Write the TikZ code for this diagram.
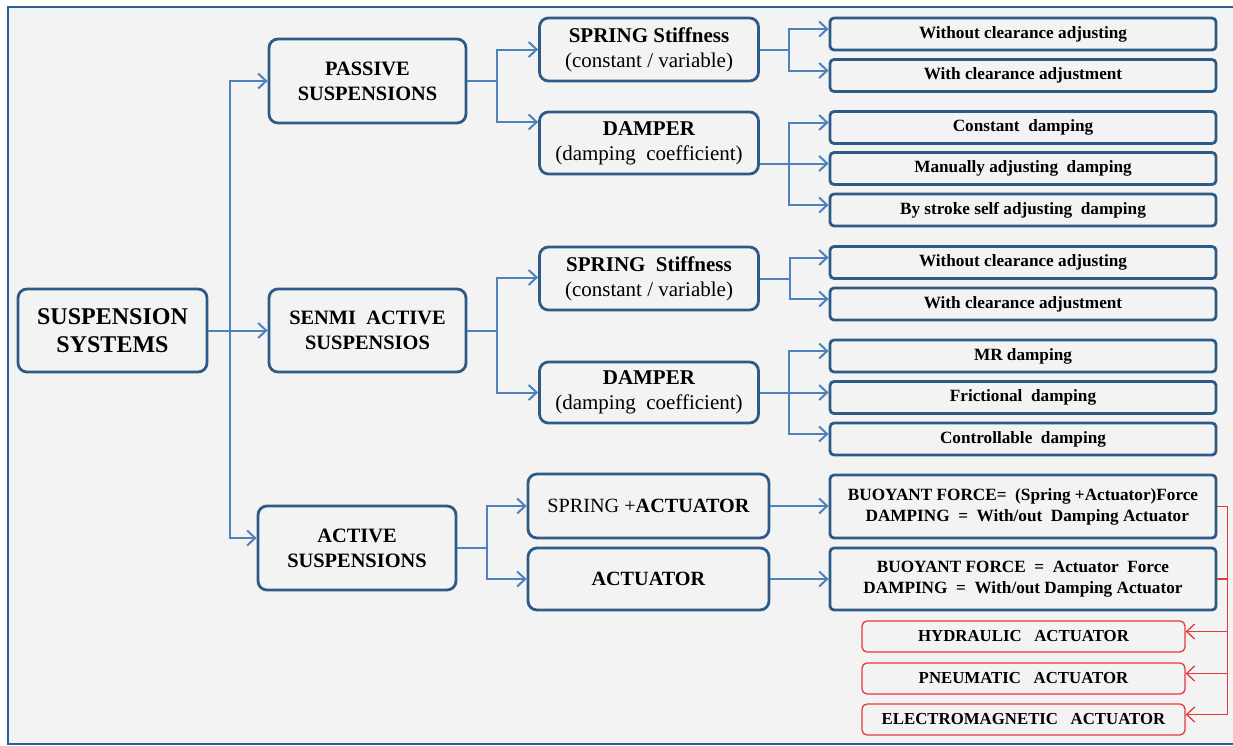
\documentclass[tikz,border=0pt]{standalone}
\usepackage{fontspec}
\setmainfont{Liberation Serif}
\usetikzlibrary{arrows.meta}
\definecolor{bg}{HTML}{F2F3F2}
\definecolor{frameblue}{HTML}{2D5F91}
\definecolor{boxblue}{HTML}{2E5A88}
\definecolor{lineblue}{HTML}{4F81BD}
\definecolor{redc}{HTML}{E8383D}
\begin{document}
\begin{tikzpicture}[x=1pt,y=-1pt,
  box/.style={draw=boxblue, line width=2.8pt, rounded corners=9pt, fill=bg, align=center, inner sep=0pt},
  leaf/.style={draw=boxblue, line width=2.8pt, rounded corners=4pt, fill=bg, align=center, inner sep=0pt,
    minimum width=386pt, minimum height=32pt, font=\fontsize{17.2}{21}\selectfont\bfseries},
  redbox/.style={draw=redc, line width=1.3pt, rounded corners=5pt, fill=bg, align=center, inner sep=0pt,
    minimum width=323pt, minimum height=31pt, font=\fontsize{16.8}{20}\selectfont\bfseries},
  conn/.style={draw=lineblue, line width=2pt, -{Straight Barb[length=8pt,width=15pt]}},
  redconn/.style={draw=redc, line width=1.3pt, -{Straight Barb[length=8pt,width=15pt]}},
  big/.style={font=\fontsize{24}{28}\selectfont\bfseries},
  mid/.style={font=\fontsize{20.4}{25}\selectfont\bfseries},
  sub/.style={font=\fontsize{21}{25}\selectfont},
  act/.style={font=\fontsize{20.2}{25}\selectfont}
]
\useasboundingbox (0,0) rectangle (1233,745);
\clip (0,0) rectangle (1233,745);
\draw[draw=frameblue, line width=2pt, fill=bg] (8,7) rectangle (1250,744);

% level 0
\node[box, big, minimum width=189pt, minimum height=83pt] (ss) at (112.5,330.5) {SUSPENSION\\SYSTEMS};
% level 1
\node[box, mid, minimum width=197pt, minimum height=84pt] (pas) at (367.5,81) {PASSIVE\\SUSPENSIONS};
\node[box, mid, minimum width=197pt, minimum height=83pt] (sen) at (367.5,330.5) {SENMI\ \ ACTIVE\\SUSPENSIOS};
\node[box, mid, minimum width=198pt, minimum height=84pt] (act) at (357,548) {ACTIVE\\SUSPENSIONS};
% level 2
\node[box, sub, minimum width=219pt, minimum height=63pt] (sp1) at (649,49.5) {\textbf{SPRING Stiffness}\\(constant / variable)};
\node[box, sub, minimum width=219pt, minimum height=62pt] (dm1) at (649,143) {\textbf{DAMPER}\\(damping\ \ coefficient)};
\node[box, sub, minimum width=219pt, minimum height=63pt] (sp2) at (649,278.5) {\textbf{SPRING\ \ Stiffness}\\(constant / variable)};
\node[box, sub, minimum width=219pt, minimum height=61pt] (dm2) at (649,392.5) {\textbf{DAMPER}\\(damping\ \ coefficient)};
\node[box, act, minimum width=241pt, minimum height=64pt] (spa) at (648.5,506) {SPRING +\textbf{ACTUATOR}};
\node[box, act, minimum width=241pt, minimum height=62pt] (acto) at (648.5,579) {\textbf{ACTUATOR}};
% level 3 leaves
\node[leaf] (l1) at (1023,34) {Without clearance adjusting};
\node[leaf] (l2) at (1023,75.5) {With clearance adjustment};
\node[leaf] (l3) at (1023,127.5) {Constant\ \ damping};
\node[leaf] (l4) at (1023,168.5) {Manually adjusting\ \ damping};
\node[leaf] (l5) at (1023,210) {By stroke self adjusting\ \ damping};
\node[leaf] (l6) at (1023,262.5) {Without clearance adjusting};
\node[leaf] (l7) at (1023,304) {With clearance adjustment};
\node[leaf] (l8) at (1023,356) {MR damping};
\node[leaf] (l9) at (1023,397.5) {Frictional\ \ damping};
\node[leaf] (l10) at (1023,439) {Controllable\ \ damping};
\node[leaf, minimum height=63pt] (b1) at (1023,506.5) {BUOYANT FORCE=\ \ (Spring +Actuator)Force\\\ \ DAMPING\ \ =\ \ With/out\ \ Damping Actuator};
\node[leaf, minimum height=62pt] (b2) at (1023,579) {BUOYANT FORCE\ \ =\ \ Actuator\ \ Force\\DAMPING\ \ =\ \ With/out Damping Actuator};
% red boxes
\node[redbox] (r1) at (1023.5,636.5) {HYDRAULIC\ \ \ ACTUATOR};
\node[redbox] (r2) at (1023.5,678.5) {PNEUMATIC\ \ \ ACTUATOR};
\node[redbox] (r3) at (1023.5,719.5) {ELECTROMAGNETIC\ \ \ ACTUATOR};

% entry coordinates
\foreach \n in {l1,l2,l3,l4,l5,l6,l7,l8,l9,l10} {\coordinate (\n in) at ([yshift=5pt]\n.west);}
\foreach \n in {r1,r2,r3} {\coordinate (\n in) at ([yshift=5pt]\n.east);}

% trunk
\draw[conn] (ss.east) -- ([xshift=22pt]ss.east) |- (pas.west);
\draw[conn] (ss.east) -- (ss.east -| sen.west);
\draw[conn] ([xshift=22pt]ss.east) |- ([yshift=10pt]act.west);
% level1 -> level2
\draw[conn] (pas.east) -- ++(30,0) |- (sp1.west);
\draw[conn] (pas.east) -- ++(30,0) |- ([yshift=21pt]dm1.west);
\draw[conn] (sen.east) -- ++(30,0) |- ([yshift=1pt]sp2.west);
\draw[conn] (sen.east) -- ++(30,0) |- (dm2.west);
\draw[conn] (act.east) -- ++(30,0) |- (spa.west);
\draw[conn] (act.east) -- ++(30,0) |- (acto.west);
% level2 -> leaves
\draw[conn] (sp1.east) -- ++(29,0) |- (l1in);
\draw[conn] (sp1.east) -- ++(29,0) |- (l2in);
\draw[conn] (l4in -| dm1.east) -- (l4in);
\draw[conn] (l4in -| dm1.east) -- ++(29,0) |- (l3in);
\draw[conn] (l4in -| dm1.east) -- ++(29,0) |- (l5in);
\draw[conn] (sp2.east) -- ++(30,0) |- (l6in);
\draw[conn] (sp2.east) -- ++(30,0) |- (l7in);
\draw[conn] (l9in -| dm2.east) -- (l9in);
\draw[conn] (l9in -| dm2.east) -- ++(29,0) |- (l8in);
\draw[conn] (l9in -| dm2.east) -- ++(29,0) |- (l10in);
\draw[conn] (spa.east) -- (spa.east -| b1.west);
\draw[conn] (acto.east) -- (acto.east -| b2.west);
% red
\draw[redconn] (b1.east) -- ++(10,0) |- (r1in);
\draw[redconn] (b1.east) -- ++(10,0) |- (r2in);
\draw[redconn] (b1.east) -- ++(10,0) |- (r3in);
\draw[draw=redc, line width=1.3pt] (b2.east) -- ++(10,0);
\end{tikzpicture}
\end{document}
